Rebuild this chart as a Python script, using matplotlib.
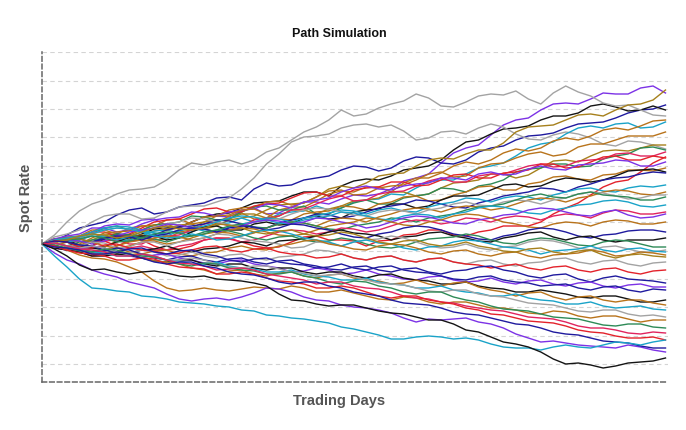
import numpy as np
import matplotlib
matplotlib.use("Agg")
import matplotlib.pyplot as plt

# Trading days sampled every 5 days
days = [0, 5, 10, 15, 20, 25, 30, 35, 40, 45, 50, 55, 60, 65, 70, 75, 80, 85, 90, 95,
        100, 105, 110, 115, 120, 125, 130, 135, 140, 145, 150, 155, 160, 165, 170, 175,
        180, 185, 190, 195, 200, 205, 210, 215, 220, 225, 230, 235, 240, 245, 250]

spot0 = 1.000      # starting spot rate
pip = 0.001        # size of one unit of the deviations below

# Deviations of each simulated path from the start (in units of `pip`)
path_devs = [
    [0,5,6,7,12,18,20,19,24,25,18,16,22,27,28,27,33,36,30,31,37,42,42,40,45,49,48,50,55,63,66,70,81,91,96,99,109,119,124,126,134,140,141,140,145,151,150,150,156,158,151],
    [0,3,9,16,19,22,29,34,36,30,32,37,39,41,46,47,44,55,61,58,59,64,66,68,74,78,77,73,76,83,87,86,81,80,84,92,96,98,104,108,109,111,116,120,121,122,126,131,134,135,139],
    [0,5,4,-1,-2,5,6,5,10,15,16,17,22,27,30,31,36,41,42,43,48,52,52,48,58,63,65,64,68,74,76,78,84,94,102,104,110,115,116,118,124,128,128,131,138,140,137,133,134,138,134],
    [0,9,22,33,40,44,50,54,55,57,64,74,81,79,82,84,80,84,92,96,104,112,117,124,134,128,130,136,140,143,150,146,138,137,142,148,150,149,153,145,140,151,158,152,148,141,138,139,134,129,128],
    [0,7,10,14,22,28,30,30,25,26,32,37,38,38,42,46,55,66,80,90,102,107,108,110,116,119,120,117,119,113,104,106,112,113,110,116,120,117,110,105,104,109,112,110,106,100,98,103,102,99,95],
    [0,2,-3,-2,4,9,10,6,8,13,15,19,20,15,18,24,26,28,34,39,40,41,47,55,58,56,61,68,70,71,78,84,86,85,90,94,94,101,112,117,118,119,124,129,130,128,134,139,140,144,154],
    [0,4,5,5,10,8,3,4,8,13,14,11,12,17,20,21,26,22,24,30,32,33,38,34,36,42,44,45,50,49,56,62,64,64,70,76,78,81,88,96,100,102,110,116,118,116,120,121,116,117,122],
    [0,-2,2,3,-4,-3,3,8,9,4,5,12,14,15,21,28,31,25,26,34,37,37,43,50,53,52,57,57,52,61,66,66,71,78,82,80,84,91,95,93,96,103,106,104,108,114,116,114,118,123,124],
    [0,5,7,8,14,14,10,16,18,18,24,25,20,22,28,34,36,37,42,43,39,41,47,53,54,49,50,56,58,59,64,70,72,67,68,76,80,81,86,90,92,88,90,97,100,100,104,108,108,108,112],
    [0,-4,-5,-4,2,7,8,9,14,19,20,15,16,22,24,25,30,30,26,28,34,34,30,35,38,43,44,46,52,52,48,50,56,61,62,64,70,70,66,69,76,83,84,82,88,93,94,93,96,99,99],
    [0,4,4,5,10,16,18,14,14,19,20,22,28,27,24,25,32,37,38,34,34,38,30,30,36,41,44,40,40,46,48,50,56,55,52,58,60,64,72,75,76,80,80,77,78,85,88,90,96,97,94],
    [0,-1,-6,-6,-2,3,4,0,0,6,8,9,14,20,22,18,18,24,26,28,34,35,40,45,48,43,44,50,52,53,58,63,66,62,62,68,70,70,74,78,80,77,78,83,84,85,90,91,88,88,92],
    [0,4,6,7,12,12,8,10,16,22,24,25,30,35,36,32,32,38,40,41,46,51,52,48,48,54,56,57,62,62,58,59,64,69,70,66,66,71,72,74,80,80,76,77,82,87,88,84,84,88,86],
    [0,-3,-4,-3,2,3,-2,3,4,-2,-6,-5,-2,4,6,6,2,-2,-4,-3,2,7,8,4,4,3,-2,3,4,9,10,14,14,9,8,12,14,18,18,18,22,30,36,41,49,57,62,64,72,81,87],
    [0,5,8,10,16,16,12,14,20,24,26,27,32,31,28,32,34,35,40,39,36,42,44,46,52,56,58,55,54,58,60,61,66,66,64,70,72,69,70,75,78,75,74,79,80,81,84,83,78,78,82],
    [0,2,-2,0,6,11,12,13,18,19,14,16,22,27,28,29,34,35,30,25,24,30,32,33,38,37,34,40,42,47,48,43,44,49,52,57,58,54,54,60,62,67,68,65,64,69,70,74,74,73,76],
    [0,4,3,-3,-4,-3,2,7,8,8,4,6,12,17,18,14,14,20,22,19,20,26,28,25,26,32,34,35,40,40,36,38,44,48,48,49,54,59,60,57,58,63,66,65,62,64,68,73,74,75,72],
    [0,4,6,5,2,5,10,9,6,9,14,17,18,20,24,23,20,16,16,21,24,26,30,29,26,28,32,36,38,40,44,43,40,37,36,41,44,48,50,52,56,55,52,57,60,64,66,67,70,72,71],
    [0,3,2,4,8,7,4,7,12,11,8,13,16,13,12,17,20,22,26,25,22,26,28,31,34,33,30,34,36,33,32,37,40,42,46,45,42,46,48,47,44,49,52,55,56,53,52,56,58,57,59],
    [0,-3,-4,-4,-8,-6,-2,2,4,3,0,2,6,10,12,11,8,11,16,20,22,21,18,23,26,25,22,27,30,34,36,35,32,36,38,37,34,36,40,44,46,45,42,46,48,52,54,53,50,49,52],
    [0,3,4,5,10,14,16,15,12,17,20,22,26,25,22,19,18,22,24,25,30,34,36,35,32,29,28,32,34,33,30,34,36,40,42,39,38,42,44,43,40,44,46,50,52,51,48,45,46,49,49],
    [0,1,-2,2,4,6,10,9,6,5,2,6,8,10,14,18,20,17,16,20,22,21,18,15,14,18,20,22,26,25,22,26,28,30,34,37,38,40,44,48,50,47,46,50,52,49,48,47,44,44,47],
    [0,4,6,8,12,16,18,17,14,11,10,14,16,18,22,26,28,27,24,21,20,24,26,28,32,31,28,25,24,28,30,29,26,30,32,36,38,37,34,31,30,34,36,39,40,43,44,42,38,37,39],
    [0,-4,-6,-8,-12,-11,-8,-4,-2,-5,-6,-2,0,4,6,5,2,4,8,12,14,13,10,12,16,15,12,14,18,22,24,23,20,22,26,25,22,26,28,27,24,28,30,29,26,31,34,33,30,30,32],
    [0,3,4,3,0,3,8,12,14,16,20,19,16,15,12,14,18,22,24,23,20,22,26,25,22,20,16,18,22,26,28,27,24,21,20,24,26,29,30,34,36,35,32,29,28,32,34,29,26,27,30],
    [0,4,6,5,2,-2,-4,-2,2,6,8,7,4,6,10,14,16,15,12,9,8,10,14,18,20,22,26,25,22,19,18,22,24,28,30,29,26,22,20,17,16,20,22,21,18,22,24,23,20,20,22],
    [0,-3,-4,-3,2,6,8,7,4,8,10,14,16,15,12,16,18,17,14,16,20,19,16,14,10,7,6,10,12,16,18,17,14,10,8,5,4,8,10,14,16,15,12,8,6,9,10,13,14,14,12],
    [0,3,2,-3,-4,-6,-10,-9,-6,-5,-2,-6,-8,-5,-4,-2,2,1,-2,3,4,5,8,12,14,11,10,8,4,7,8,11,12,8,6,3,2,6,8,11,12,7,4,7,8,4,2,4,4,4,6],
    [0,3,4,5,8,6,2,3,6,10,12,11,8,12,14,13,10,6,4,7,8,4,2,3,6,4,0,-3,-4,-2,2,5,6,7,10,8,4,1,0,4,6,5,2,-1,-2,2,4,3,0,-3,-3],
    [0,1,-2,-2,2,1,-4,-3,2,2,-2,2,4,6,10,9,6,3,2,0,-4,-3,2,1,-2,2,4,5,8,6,2,-2,-4,-3,0,-4,-6,-3,-2,2,4,3,0,-4,-6,-3,-2,-5,-8,-8,-6],
    [0,4,6,7,10,14,16,15,12,8,6,7,10,8,4,5,8,12,14,13,10,6,4,2,-2,2,4,1,0,-4,-6,-3,-2,2,4,3,0,-3,-4,-6,-10,-7,-6,-5,-2,-6,-8,-5,-4,-7,-8],
    [0,-3,-4,-5,-8,-7,-4,-8,-10,-7,-6,-10,-12,-9,-8,-4,-2,-5,-6,-2,0,3,4,0,-2,-5,-6,-2,0,-1,-4,-8,-10,-7,-6,-10,-12,-9,-8,-12,-14,-11,-10,-9,-6,-8,-12,-11,-8,-9,-11],
    [0,3,4,8,10,9,6,8,12,16,18,15,14,16,20,19,16,12,10,13,14,10,8,9,12,10,6,2,0,3,4,0,-2,-1,2,-2,-4,-7,-8,-5,-4,-8,-10,-7,-6,-11,-14,-11,-10,-12,-13],
    [0,1,-2,-5,-6,-7,-10,-9,-6,-8,-12,-11,-8,-12,-14,-11,-10,-14,-16,-13,-12,-10,-6,-7,-10,-14,-16,-13,-12,-16,-18,-15,-14,-18,-20,-17,-16,-20,-22,-19,-18,-15,-14,-18,-20,-17,-16,-20,-22,-19,-18],
    [0,3,2,-3,-4,-1,0,-4,-6,-7,-10,-9,-6,-3,-2,-6,-8,-5,-4,-8,-10,-11,-14,-13,-10,-14,-16,-13,-12,-16,-18,-15,-14,-18,-20,-21,-24,-22,-20,-24,-26,-23,-22,-26,-28,-25,-24,-28,-30,-27,-26],
    [0,-3,-4,-5,-8,-7,-4,-6,-10,-14,-16,-13,-12,-16,-18,-15,-14,-18,-20,-17,-16,-20,-22,-25,-26,-23,-22,-26,-28,-25,-24,-28,-30,-27,-26,-23,-22,-26,-28,-32,-34,-31,-30,-35,-38,-34,-32,-35,-36,-37,-39],
    [0,-4,-6,-5,-2,-4,-8,-12,-14,-11,-10,-14,-16,-19,-20,-17,-16,-20,-22,-24,-28,-27,-24,-26,-30,-29,-26,-30,-32,-35,-36,-33,-32,-36,-38,-37,-34,-38,-40,-37,-36,-40,-42,-39,-38,-42,-44,-41,-40,-43,-43],
    [0,3,2,-1,-2,-6,-8,-5,-4,-8,-10,-7,-6,-10,-12,-16,-18,-15,-14,-18,-20,-21,-24,-23,-20,-24,-26,-23,-22,-26,-28,-29,-32,-35,-36,-33,-32,-36,-38,-39,-42,-41,-40,-44,-46,-43,-42,-46,-48,-45,-46],
    [0,-4,-6,-8,-12,-12,-10,-11,-14,-17,-18,-16,-16,-20,-22,-20,-20,-24,-26,-24,-24,-28,-30,-28,-28,-32,-34,-31,-30,-34,-36,-37,-40,-40,-38,-42,-44,-45,-48,-48,-46,-48,-50,-53,-54,-52,-52,-55,-58,-58,-56],
    [0,-3,-4,-6,-10,-10,-8,-10,-14,-17,-18,-20,-24,-26,-30,-27,-26,-30,-32,-29,-28,-32,-34,-31,-30,-34,-36,-37,-40,-39,-36,-40,-42,-39,-38,-43,-46,-48,-52,-49,-48,-53,-56,-53,-52,-56,-58,-56,-56,-59,-61],
    [0,1,-2,-6,-8,-9,-12,-12,-10,-12,-16,-17,-20,-20,-18,-22,-24,-25,-28,-28,-26,-30,-32,-33,-36,-36,-34,-38,-40,-41,-44,-44,-42,-46,-48,-49,-52,-52,-50,-54,-56,-57,-60,-60,-58,-62,-64,-63,-62,-65,-66],
    [0,-3,-4,-4,-2,-4,-8,-11,-12,-13,-16,-16,-14,-16,-20,-23,-24,-22,-22,-25,-28,-29,-32,-31,-30,-33,-36,-39,-40,-41,-44,-47,-48,-46,-46,-50,-52,-53,-56,-59,-60,-61,-64,-67,-68,-66,-66,-70,-72,-71,-73],
    [0,-2,-6,-11,-14,-15,-18,-23,-28,-37,-44,-47,-46,-44,-46,-47,-45,-43,-44,-45,-42,-44,-48,-48,-46,-49,-52,-55,-56,-53,-54,-58,-60,-58,-58,-61,-64,-64,-66,-69,-70,-67,-68,-72,-74,-72,-72,-75,-78,-76,-76],
    [0,-1,-4,-7,-8,-5,-6,-10,-12,-13,-16,-20,-22,-19,-20,-24,-26,-27,-30,-30,-28,-32,-34,-38,-40,-37,-38,-42,-44,-48,-50,-48,-48,-53,-56,-58,-62,-65,-66,-67,-70,-73,-74,-75,-78,-81,-82,-80,-80,-83,-84],
    [0,1,-2,-5,-6,-8,-12,-12,-10,-12,-16,-19,-20,-22,-26,-25,-24,-26,-30,-32,-34,-36,-40,-38,-38,-42,-44,-45,-48,-52,-54,-55,-58,-59,-62,-64,-66,-67,-70,-73,-74,-75,-78,-82,-84,-84,-86,-89,-90,-88,-89],
    [0,-2,-6,-9,-10,-12,-16,-16,-14,-15,-20,-23,-24,-25,-30,-30,-28,-30,-34,-37,-38,-40,-44,-44,-42,-44,-48,-52,-54,-52,-52,-56,-58,-60,-64,-66,-70,-71,-74,-77,-78,-79,-82,-86,-88,-89,-92,-94,-94,-93,-96],
    [0,-9,-16,-20,-26,-30,-33,-38,-41,-44,-50,-55,-57,-55,-54,-56,-53,-49,-44,-45,-48,-53,-56,-57,-61,-63,-64,-66,-69,-74,-78,-75,-76,-75,-74,-78,-80,-84,-90,-94,-98,-97,-99,-101,-102,-103,-104,-101,-103,-106,-108],
    [0,-3,-4,-6,-10,-10,-8,-10,-14,-18,-20,-18,-18,-22,-24,-28,-30,-31,-34,-38,-40,-38,-38,-42,-44,-48,-50,-52,-56,-59,-60,-61,-64,-68,-70,-71,-74,-77,-80,-81,-84,-88,-90,-91,-94,-97,-98,-99,-102,-104,-104],
    [0,-12,-23,-35,-44,-45,-47,-48,-52,-53,-55,-58,-59,-60,-62,-63,-66,-67,-71,-72,-74,-75,-77,-79,-83,-85,-88,-91,-95,-95,-93,-92,-93,-95,-94,-96,-100,-103,-104,-104,-106,-103,-101,-103,-104,-101,-98,-99,-101,-98,-96],
    [0,-5,-12,-21,-26,-25,-28,-30,-28,-27,-29,-32,-33,-32,-35,-36,-37,-39,-42,-50,-56,-57,-60,-62,-61,-61,-64,-67,-69,-70,-73,-76,-76,-80,-86,-88,-93,-98,-100,-103,-108,-115,-120,-119,-121,-124,-122,-119,-118,-117,-114],
]

palette = {
    "black": "#141414", "gray": "#a3a3a3", "navy": "#1f1a9e", "purple": "#7c32e6",
    "cyan": "#1aa3c8", "brown": "#b8731b", "olive": "#a6801c", "green": "#2e8a57",
    "red": "#e3222b", "crimson": "#e0245e",
}
path_colors = [
    "purple", "navy", "black", "gray", "gray", "olive", "cyan", "brown", "brown", "olive",
    "green", "crimson", "red", "red", "purple", "brown", "black", "navy", "cyan", "brown",
    "gray", "green", "cyan", "crimson", "purple", "brown", "navy", "black", "green", "gray",
    "cyan", "brown", "olive", "gray", "red", "navy", "purple", "navy", "black", "brown",
    "cyan", "gray", "brown", "green", "crimson", "red", "purple", "navy", "cyan", "black",
]

# Horizontal grid levels of the spot-rate axis
grid_levels = [0.880, 0.9083, 0.9367, 0.965, 0.9934, 1.0217, 1.050, 1.0783,
               1.1067, 1.135, 1.1633, 1.1917]

fig = plt.figure(figsize=(6.86, 4.30), dpi=100)
ax = fig.add_axes([42 / 686, 48 / 430, 626 / 686, 330 / 430])

for devs, cname in zip(path_devs, path_colors):
    spot = spot0 + pip * np.asarray(devs, dtype=float)
    ax.plot(days[:len(spot)], spot, color=palette[cname], lw=1.0,
            solid_joinstyle="miter")

ax.set_xlim(0, 251)
ax.set_ylim(0.862, 1.192)
ax.set_yticks(grid_levels)
ax.set_xticks([])
ax.tick_params(axis="y", length=0, labelleft=False)
ax.yaxis.grid(True, color="#d4d4d4", lw=0.8, linestyle=(0, (4, 3)))
ax.set_axisbelow(True)
for s in ("top", "right"):
    ax.spines[s].set_visible(False)
for s in ("left", "bottom"):
    ax.spines[s].set_color("#666666")
    ax.spines[s].set_linewidth(1.1)
    ax.spines[s].set_linestyle((0, (3, 2)))

fig.text(339 / 686, 1 - 34 / 430, "Path Simulation", ha="center", va="center",
         fontsize=9, fontweight="bold", family="Liberation Sans", color="#111111")
fig.text(339 / 686, 1 - 401 / 430, "Trading Days", ha="center", va="center",
         fontsize=10.5, fontweight="bold", family="Liberation Sans", color="#555555")
fig.text(26 / 686, 1 - 198 / 430, "Spot Rate", ha="center", va="center", rotation=90,
         fontsize=10.5, fontweight="bold", family="Liberation Sans", color="#555555")

fig.savefig("out.png", dpi=100)
